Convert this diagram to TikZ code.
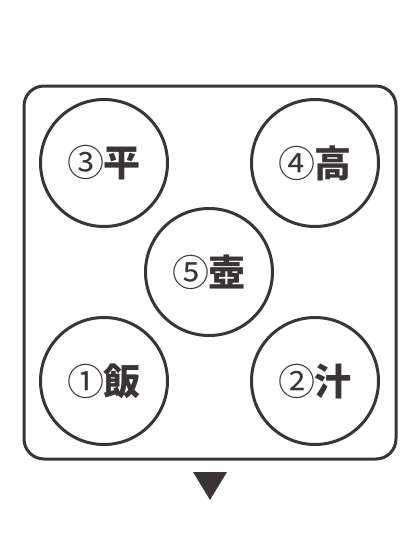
\documentclass[tikz,border=0pt]{standalone}
\usepackage{fontspec}
\newfontfamily\cjk{Noto Sans CJK JP}
\usetikzlibrary{positioning}
\definecolor{ink}{HTML}{3A3534}
\newcommand{\dishname}[2]{{\mdseries #1}\kern-1pt#2}

\begin{document}
\begin{tikzpicture}[x=1pt,y=-1pt,line width=3pt,
	dish/.style={draw=ink,circle,minimum size=127pt,inner sep=0pt,text=ink,font=\cjk\fontsize{37}{37}\selectfont\bfseries}]
	\useasboundingbox (0,0) rectangle (420,544);
	\draw[ink,rounded corners=20pt] (24,86) rectangle (396,459);
	%
	\node[dish] (tsubo) at (209,272) {\dishname{⑤}{壺}};
	\node[dish] (hira) at (104,163) {\dishname{③}{平}};
	\node[dish] (taka) at (315,163) {\dishname{④}{高}};
	\node[dish] (meshi) at (104,381) {\dishname{①}{飯}};
	\node[dish] (shiru) at (315,381) {\dishname{②}{汁}};
	%
	\fill[ink] (193,472) -- (227,472) -- (210,500) -- cycle;
\end{tikzpicture}
\end{document}
